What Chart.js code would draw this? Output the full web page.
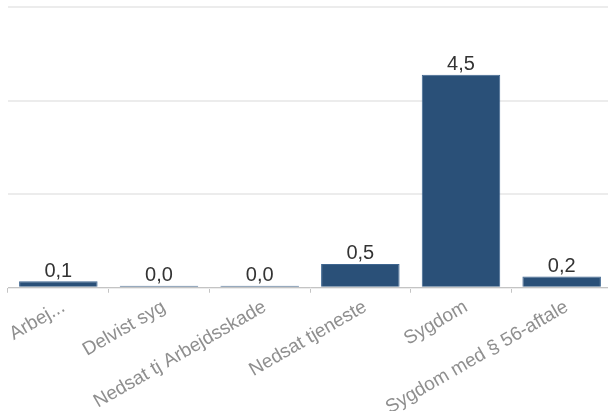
<!DOCTYPE html>
<html>
<head>
<meta charset="utf-8">
<script src="https://cdn.jsdelivr.net/npm/chart.js@4/dist/chart.umd.min.js"></script>
<style>
	html, body { margin: 0; padding: 0; background: #fff; overflow: hidden; }
	#wrap { width: 612px; height: 422px; }
</style>
</head>
<body>
<div id="wrap"><canvas id="chart"></canvas></div>
<script>
// categories and values
var categories = ['Arbej...', 'Delvist syg', 'Nedsat tj Arbejdsskade', 'Nedsat tjeneste', 'Sygdom', 'Sygdom med § 56-aftale'];
var values = [0.14, 0.02, 0.02, 0.51, 4.55, 0.24];

// draws the value above every bar, danish decimal comma
var valueLabels = {
	id: 'valueLabels',
	afterDatasetsDraw: function(chart) {
		var ctx = chart.ctx;
		var meta = chart.getDatasetMeta(0);
		ctx.save();
		ctx.font = '20px "Liberation Sans", Arial, sans-serif';
		ctx.fillStyle = '#333333';
		ctx.textAlign = 'center';
		ctx.textBaseline = 'bottom';
		meta.data.forEach(function(bar, i) {
			var txt = values[i].toFixed(1).replace('.', ',');
			ctx.fillText(txt, bar.x, bar.y);
		});
		ctx.restore();
	}
};

var config = {
	type: 'bar',
	data: {
		labels: categories,
		datasets: [{
			data: values,
			backgroundColor: '#2a5078',
			borderColor: '#3f6690',
			borderWidth: 1,
			minBarLength: 2,
			categoryPercentage: 1,
			barPercentage: 0.78
		}]
	},
	options: {
		responsive: true,
		maintainAspectRatio: false,
		animation: false,
		layout: { padding: { left: 8, top: 7, right: 0, bottom: 0 } },
		plugins: {
			legend: { display: false },
			tooltip: { enabled: false }
		},
		scales: {
			x: {
				offset: true,
				border: { display: true, color: '#c4c4c4', width: 1 },
				grid: { display: true, drawOnChartArea: false, drawTicks: true, tickLength: 5, color: '#c4c4c4', offset: true },
				ticks: {
					autoSkip: false,
					minRotation: 30,
					maxRotation: 30,
					labelOffset: 5,
					color: '#8f8f8f',
					font: { family: '"Liberation Sans", Arial, sans-serif', size: 19 }
				}
			},
			y: {
				min: 0,
				max: 6,
				border: { display: false },
				grid: { color: '#ececec', lineWidth: 2, drawTicks: false },
				ticks: { display: false, stepSize: 2 }
			}
		}
	},
	plugins: [valueLabels]
};

new Chart(document.getElementById('chart'), config);
</script>
</body>
</html>
